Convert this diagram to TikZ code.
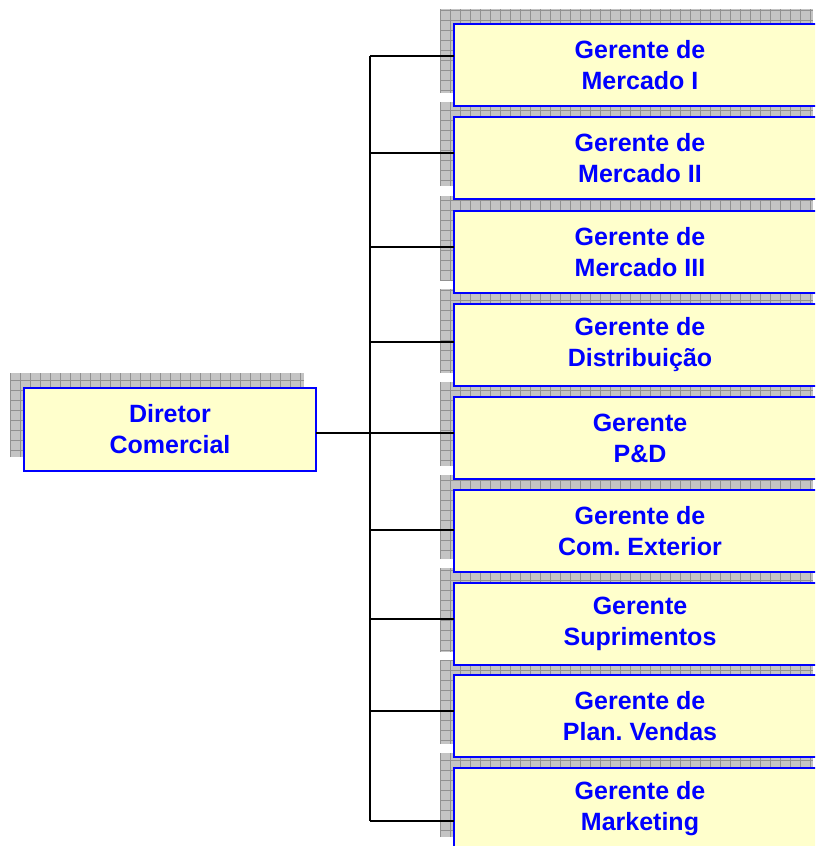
\documentclass[tikz,border=0pt]{standalone}
\usepackage{fontspec}
\setmainfont{Liberation Sans}
\frenchspacing
\definecolor{boxfill}{RGB}{255,255,204}
\definecolor{boxedge}{RGB}{0,0,255}
\definecolor{shadefill}{RGB}{196,196,196}
\definecolor{shadegrid}{RGB}{145,145,145}
\tikzset{
  orgbox/.style={draw=boxedge, line width=2.4pt, fill=boxfill, text=boxedge,
    font=\fontsize{25}{31}\selectfont\bfseries, align=center,
    inner sep=0pt, outer sep=0pt},
  mgrbox/.style={orgbox, minimum width=372pt, minimum height=82pt},
  conn/.style={draw=black, line width=1.3pt},
}
% grid-patterned drop shadow: corners (x1,y1) and (x2,y2)
\newcommand\gridshade[4]{%
  \fill[shadefill] (#1,#2) rectangle (#3,#4);
  \begin{scope}
    \clip (#1,#2) rectangle (#3,#4);
    \draw[shadegrid, line width=0.8pt, step=10pt] (#1,#2) grid (#3,#4);
  \end{scope}}
\begin{document}
\begin{tikzpicture}[x=1pt,y=-1pt]
\useasboundingbox (0,0) rectangle (815,846);
\clip (0,0) rectangle (815,846);
\fill[white] (0,0) rectangle (815,846);

% shadows
\gridshade{10}{373}{304}{457}
\foreach \t in {22,115,209,302,395,488,581,673,766}{
  \gridshade{440}{\t-13}{813}{\t+71}
}

% director
\node[orgbox, minimum width=292pt, minimum height=83pt] (dir) at (170,429.5) {Diretor\\Comercial};

% managers
\node[mgrbox] (b1) at (640,65)  {Gerente de\\Mercado I};
\node[mgrbox] (b2) at (640,158) {Gerente de\\Mercado II};
\node[mgrbox] (b3) at (640,252) {Gerente de\\Mercado III};
\node[mgrbox] (b4) at (640,345) {Gerente de\\Distribuição};
\node[mgrbox] (b5) at (640,438) {Gerente\\P\&D};
\node[mgrbox] (b6) at (640,531) {Gerente de\\Com. Exterior};
\node[mgrbox] (b7) at (640,624) {Gerente\\Suprimentos};
\node[mgrbox] (b8) at (640,716) {Gerente de\\Plan. Vendas};
\node[mgrbox] (b9) at (640,809) {Gerente de\\Marketing};

% junctions on the trunk
\coordinate (j1) at (370,56);
\coordinate (j2) at (370,153);
\coordinate (j3) at (370,247);
\coordinate (j4) at (370,342);
\coordinate (j5) at (370,433);
\coordinate (j6) at (370,530);
\coordinate (j7) at (370,619);
\coordinate (j8) at (370,711);
\coordinate (j9) at (370,821);

% connectors
\draw[conn] (j1) -- (j9);
\draw[conn] (dir.east |- j5) -- (j5);
\foreach \i in {1,...,9}{
  \draw[conn] (j\i) -- (b\i.west |- j\i);
}
\end{tikzpicture}
\end{document}
